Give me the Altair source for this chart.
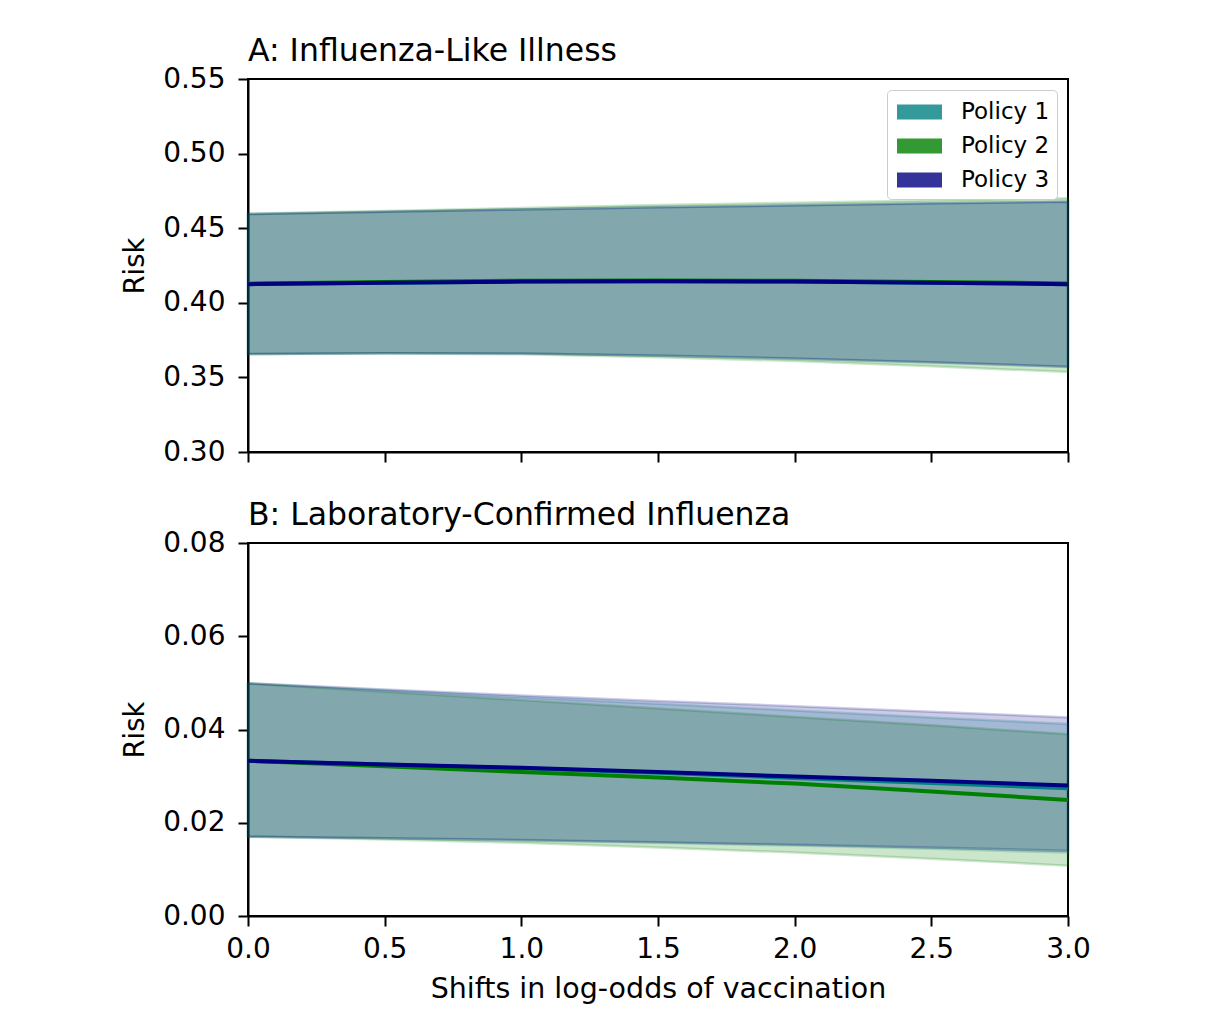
import altair as alt
import pandas as pd

x_vals = [0.0, 0.5, 1.0, 1.5, 2.0, 2.5, 3.0]
policies = ["Policy 1", "Policy 2", "Policy 3"]
colors = ["#008080", "#008000", "#000080"]

# Panel A: Influenza-Like Illness
ili_mean = {
    "Policy 1": [0.4125, 0.4135, 0.4142, 0.4145, 0.4142, 0.4135, 0.4125],
    "Policy 2": [0.4128, 0.4140, 0.4148, 0.4150, 0.4148, 0.4140, 0.4130],
    "Policy 3": [0.4125, 0.4135, 0.4142, 0.4145, 0.4142, 0.4135, 0.4125],
}
ili_hi = {
    "Policy 1": [0.4595, 0.4610, 0.4625, 0.4640, 0.4652, 0.4665, 0.4676],
    "Policy 2": [0.4597, 0.4615, 0.4635, 0.4655, 0.4670, 0.4685, 0.4700],
    "Policy 3": [0.4595, 0.4610, 0.4626, 0.4641, 0.4654, 0.4667, 0.4679],
}
ili_lo = {
    "Policy 1": [0.3657, 0.3662, 0.3660, 0.3645, 0.3625, 0.3600, 0.3570],
    "Policy 2": [0.3655, 0.3660, 0.3655, 0.3635, 0.3610, 0.3575, 0.3536],
    "Policy 3": [0.3657, 0.3662, 0.3660, 0.3646, 0.3627, 0.3602, 0.3572],
}

# Panel B: Laboratory-Confirmed Influenza
lci_mean = {
    "Policy 1": [0.0333, 0.0325, 0.0317, 0.0307, 0.0296, 0.0285, 0.0274],
    "Policy 2": [0.0333, 0.0321, 0.0309, 0.0297, 0.0284, 0.0267, 0.0249],
    "Policy 3": [0.0333, 0.0325, 0.0318, 0.0309, 0.0299, 0.0290, 0.0280],
}
lci_hi = {
    "Policy 1": [0.0499, 0.0484, 0.0469, 0.0455, 0.0441, 0.0426, 0.0412],
    "Policy 2": [0.0499, 0.0481, 0.0463, 0.0445, 0.0427, 0.0409, 0.0390],
    "Policy 3": [0.0499, 0.0486, 0.0473, 0.0461, 0.0450, 0.0438, 0.0426],
}
lci_lo = {
    "Policy 1": [0.0170, 0.0167, 0.0162, 0.0157, 0.0151, 0.0144, 0.0136],
    "Policy 2": [0.0170, 0.0164, 0.0157, 0.0147, 0.0136, 0.0123, 0.0108],
    "Policy 3": [0.0170, 0.0167, 0.0163, 0.0158, 0.0153, 0.0147, 0.0140],
}

ili_ticks = [0.30, 0.35, 0.40, 0.45, 0.50, 0.55]
lci_ticks = [0.00, 0.02, 0.04, 0.06, 0.08]
x_ticks = [0.0, 0.5, 1.0, 1.5, 2.0, 2.5, 3.0]


def to_df(mean, lo, hi):
    rows = []
    for p in policies:
        for i, xv in enumerate(x_vals):
            rows.append({"x": xv, "policy": p, "mean": mean[p][i],
                         "lo": lo[p][i], "hi": hi[p][i]})
    return pd.DataFrame(rows)


FONT = "DejaVu Sans"


def panel(df, title, ydomain, yticks, bottom, show_legend):
    base = alt.Chart(df)
    xaxis = alt.Axis(values=x_ticks, format=".1f", labels=bottom, labelFlush=False,
                     labelPadding=9, titlePadding=11, titleFontSize=28.5,
                     title="Shifts in log-odds of vaccination" if bottom else None)
    x = alt.X("x:Q", scale=alt.Scale(domain=[0, 3], nice=False, zero=False), axis=xaxis)
    y = alt.Y("lo:Q", scale=alt.Scale(domain=ydomain, nice=False, zero=False),
              axis=alt.Axis(values=yticks, format=".2f", title="Risk", titlePadding=13))
    if show_legend:
        leg = alt.Legend(
            title=None, orient="top-right", offset=11,
            fillColor="white", strokeColor="#cccccc", cornerRadius=4,
            padding=7, labelFontSize=23, labelFont=FONT, labelColor="black",
            symbolType="M-0.8,-0.5H2.2V0.5H-0.8Z", symbolSize=900,
            symbolOpacity=0.8, symbolStrokeWidth=0, labelOffset=37,
            rowPadding=7,
        )
    else:
        leg = None
    band = base.mark_area(fillOpacity=0.2, strokeOpacity=0.2, strokeWidth=2.5).encode(
        x=x, y=y, y2="hi:Q",
        fill=alt.Fill("policy:N", scale=alt.Scale(domain=policies, range=colors), legend=leg),
        stroke=alt.Stroke("policy:N", scale=alt.Scale(domain=policies, range=colors), legend=None),
        detail="policy:N",
    )
    line = base.mark_line(strokeWidth=4).encode(
        x=x, y="mean:Q",
        stroke=alt.Stroke("policy:N", scale=alt.Scale(domain=policies, range=colors), legend=None),
    )
    return alt.layer(band, line).properties(
        width=820, height=373,
        title=alt.TitleParams(title, anchor="start", frame="group", fontSize=31.5, font=FONT,
                              fontWeight="normal", color="black", offset=-2),
    )


pa = panel(to_df(ili_mean, ili_lo, ili_hi), "A: Influenza-Like Illness",
           [0.30, 0.55], ili_ticks, False, True)
pb = panel(to_df(lci_mean, lci_lo, lci_hi), "B: Laboratory-Confirmed Influenza",
           [0.0, 0.08], lci_ticks, True, False)

chart = alt.vconcat(pa, pb, spacing=31).resolve_scale(
    fill="independent", stroke="independent"
).properties(
    padding={"left": 112, "top": 26, "right": 20, "bottom": 10},
    background="white",
).configure_view(
    stroke="black", strokeWidth=2
).configure_axis(
    domainColor="black", domainWidth=2, tickColor="black", tickWidth=2,
    tickSize=10, labelFontSize=28, labelFont=FONT, labelColor="black",
    labelPadding=13, titleFontSize=27.5, titleFont=FONT, titleColor="black",
    titleFontWeight="normal", titlePadding=11, grid=False,
)

chart.save("out.html", embed_options={"renderer": "svg", "actions": False})
